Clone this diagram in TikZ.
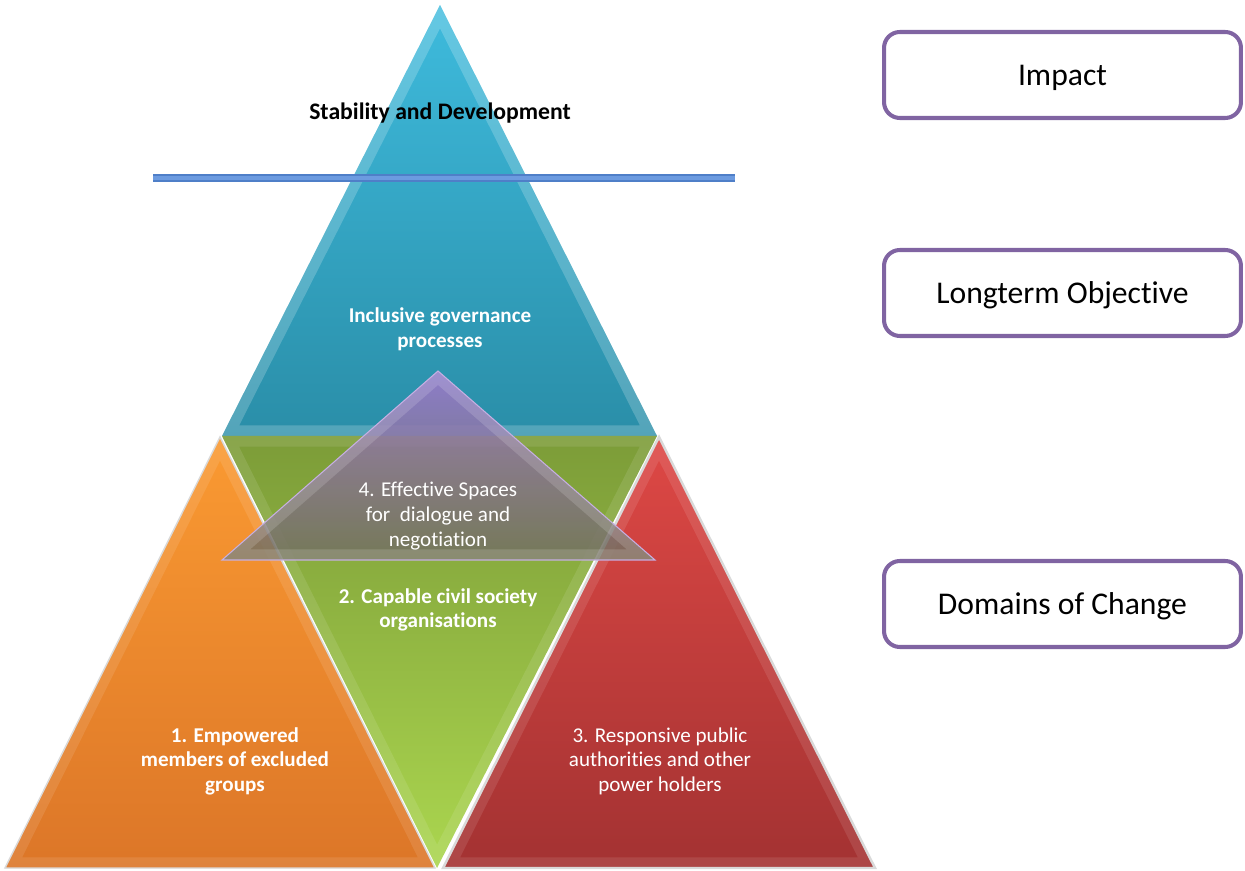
\documentclass[tikz,border=0pt]{standalone}
\usepackage{fontspec}
\setmainfont{Carlito}[Ligatures=NoCommon]

\definecolor{govtop}{HTML}{3EBBDD}
\definecolor{govbot}{HTML}{2A8EA8}
\definecolor{csotop}{HTML}{7C9C38}
\definecolor{csobot}{HTML}{ABD64F}
\definecolor{emptop}{HTML}{FA9A32}
\definecolor{empbot}{HTML}{DC7628}
\definecolor{resptop}{HTML}{DE4845}
\definecolor{respbot}{HTML}{A33232}
\definecolor{spacetop}{HTML}{A07ACE}
\definecolor{spacemid}{HTML}{705498}
\definecolor{spacebot}{HTML}{72705C}
\definecolor{boxline}{HTML}{8064A2}
\definecolor{barline}{HTML}{4F7FC8}
\definecolor{barfill}{HTML}{6C9BE0}

\begin{document}
\begin{tikzpicture}[x=0.02cm, y=-0.02cm,
    bevel/.style={white, opacity=.2, line width=12pt, line join=miter},
    seam/.style={draw=white!70!gray, line width=.8pt},
    facettext/.style={white, align=center, font=\fontsize{12}{14}\selectfont},
    facetbold/.style={facettext, font=\bfseries\fontsize{12}{14}\selectfont},
    levelbox/.style={draw=boxline, line width=2.3pt, rounded corners=9pt,
        minimum width=7.14cm, minimum height=1.72cm, text height=11.6pt, text depth=0pt,
        font=\fontsize{18}{22}\selectfont}]

\useasboundingbox (0,0) rectangle (1245,871);

% corners of the five facets
\coordinate (gov apex) at (440,5);
\coordinate (gov left) at (222,436);
\coordinate (gov right) at (657,436);
\coordinate (cso foot) at (437,868);
\coordinate (emp apex) at (220,437);
\coordinate (emp left) at (5,868);
\coordinate (emp right) at (435,868);
\coordinate (resp apex) at (659,437);
\coordinate (resp left) at (443,868);
\coordinate (resp right) at (875,868);
\coordinate (space apex) at (438,371);
\coordinate (space left) at (222,560);
\coordinate (space right) at (655,560);

% governance (top)
\begin{scope}
    \clip (gov apex) -- (gov left) -- (gov right) -- cycle;
    \shade[top color=govtop, bottom color=govbot] (gov apex) -- (gov left) -- (gov right) -- cycle;
    \draw[bevel] (gov apex) -- (gov left) -- (gov right) -- cycle;
\end{scope}

% civil society (inverted)
\begin{scope}
    \clip (gov left) -- (gov right) -- (cso foot) -- cycle;
    \shade[top color=csotop, bottom color=csobot] (gov left) -- (gov right) -- (cso foot) -- cycle;
    \draw[bevel, opacity=.1] (gov left) -- (gov right) -- (cso foot) -- cycle;
\end{scope}

% excluded groups
\begin{scope}
    \clip (emp apex) -- (emp left) -- (emp right) -- cycle;
    \shade[top color=emptop, bottom color=empbot] (emp apex) -- (emp left) -- (emp right) -- cycle;
    \draw[bevel, opacity=.1] (emp apex) -- (emp left) -- (emp right) -- cycle;
\end{scope}
\draw[seam] (emp apex) -- (emp left) -- (emp right) -- cycle;

% public authorities
\begin{scope}
    \clip (resp apex) -- (resp left) -- (resp right) -- cycle;
    \shade[top color=resptop, bottom color=respbot] (resp apex) -- (resp left) -- (resp right) -- cycle;
    \draw[bevel, opacity=.1] (resp apex) -- (resp left) -- (resp right) -- cycle;
\end{scope}
\draw[seam, line width=1.4pt] (resp apex) -- (resp left) -- (resp right) -- cycle;

% spaces for dialogue (see-through)
\begin{scope}
    \clip (space apex) -- (space left) -- (space right) -- cycle;
    \shade[top color=spacetop, middle color=spacemid, bottom color=spacebot, fill opacity=.85]
        (space apex) -- (space left) -- (space right) -- cycle;
    \draw[bevel, opacity=.15] (space apex) -- (space left) -- (space right) -- cycle;
\end{scope}
\draw[draw=spacetop!60!white, line width=.6pt] (space apex) -- (space left) -- (space right) -- cycle;

% impact line
\coordinate (bar west) at (153,178);
\coordinate (bar east) at (735,178);
\draw[barline, line width=4.2pt] (bar west) -- (bar east);
\draw[barfill, line width=2.4pt] (bar west) -- (bar east);

% labels on the pyramid
\node (stability) at (440,113) [font=\bfseries\fontsize{13.5}{16}\selectfont] {Stability and Development};
\node (governance) at (440,329) [facetbold] {Inclusive governance\\processes};
\node (spaces) at (438,516) [facettext] {4. Effective Spaces\\for\ \ dialogue and\\negotiation};
\node (cso) at (438,610) [facetbold] {2. Capable civil society\\organisations};
\node (empowered) at (235,761) [facetbold] {1. Empowered\\members of excluded\\groups};
\node (responsive) at (660,761) [facettext] {3. Responsive public\\authorities and other\\power holders};

% levels
\node (impact) at (1062.5,75) [levelbox] {Impact};
\node (objective) at (1062.5,293) [levelbox] {Longterm Objective};
\node (domains) at (1062.5,604) [levelbox] {Domains of Change};

\end{tikzpicture}
\end{document}
